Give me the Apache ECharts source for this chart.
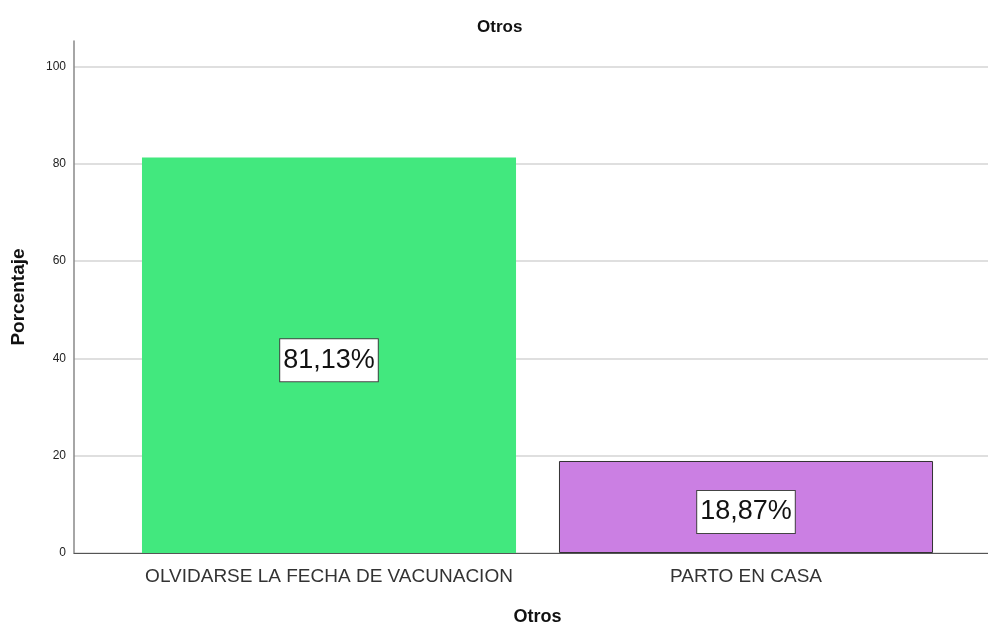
<!DOCTYPE html>
<html><head><meta charset="utf-8">
<script src="https://cdn.jsdelivr.net/npm/echarts@6/dist/echarts.min.js"></script>
<style>html,body{margin:0;padding:0;background:#fff}#c{width:988px;height:624px}</style>
</head><body><div id="c"></div>
<script>
const categories = ['OLVIDARSE LA FECHA DE VACUNACION', 'PARTO EN CASA'];
const values = [81.13, 18.87];
const barColors = ['#42E87E', '#CB7FE3'];
const yTicks = [0, 20, 40, 60, 80, 100];

const FONT = '"Liberation Sans", Arial, sans-serif';
const chart = echarts.init(document.getElementById('c'));
const fmt = v => v.toFixed(2).replace('.', ',') + '%';
chart.setOption({
  animation: false,
  title: { text: 'Otros', left: 472, top: 14, textStyle: { fontFamily: FONT, fontSize: 17, fontWeight: 'bold', color: '#111' } },
  grid: [
    { left: 74, right: 0, top: 66.4, bottom: 71, containLabel: false, outerBoundsMode: 'none' },
    { left: 120.5, right: 33.5, top: 41, bottom: 71, containLabel: false, outerBoundsMode: 'none' },
    { left: 74, right: 0, top: 41, bottom: 71, containLabel: false, outerBoundsMode: 'none' }
  ],
  xAxis: [
    { gridIndex: 0, type: 'value', min: 0, max: 1, axisLine: { show: true, lineStyle: { color: '#555', width: 1 } },
      axisTick: { show: false }, axisLabel: { show: false }, splitLine: { show: false } },
    { gridIndex: 1, type: 'category', data: categories, axisLine: { show: false }, axisTick: { show: false },
      axisLabel: { fontFamily: FONT, fontSize: 19, color: '#333', margin: 14, interval: 0, hideOverlap: false },
      name: 'Otros', nameLocation: 'middle', nameGap: 55,
      nameTextStyle: { fontFamily: FONT, fontSize: 18, fontWeight: 'bold', color: '#111' } },
    { gridIndex: 2, type: 'value', min: 0, max: 1, show: false }
  ],
  yAxis: [
    { gridIndex: 0, type: 'value', min: 0, max: 100, interval: 20,
      axisLine: { show: false }, axisTick: { show: false },
      axisLabel: { fontFamily: FONT, fontSize: 12, color: '#222', margin: 8 },
      splitLine: { show: true, lineStyle: { color: '#d4d4d4', width: 1.5 } } },
    { gridIndex: 1, type: 'value', min: 0, max: 105, show: false },
    { gridIndex: 2, type: 'value', min: 0, max: 105,
      axisLine: { show: true, lineStyle: { color: '#888', width: 1.5 } }, axisTick: { show: false },
      axisLabel: { show: false }, splitLine: { show: false },
      name: 'Porcentaje', nameLocation: 'middle', nameGap: 46,
      nameTextStyle: { fontFamily: FONT, fontSize: 19, fontWeight: 'bold', color: '#111' } }
  ],
  series: [{
    type: 'bar', xAxisIndex: 1, yAxisIndex: 1, barCategoryGap: '10.3%',
    data: values.map((v, i) => ({
      value: v,
      itemStyle: { color: barColors[i], borderColor: i === 0 ? barColors[i] : '#333', borderWidth: i === 0 ? 0 : 1 }
    })),
    label: {
      show: true, position: 'inside', offset: [0, 5], formatter: p => fmt(p.value),
      fontFamily: FONT, fontSize: 27, color: '#111', backgroundColor: '#fff',
      borderColor: '#444', borderWidth: 1, padding: [8, 3, 7, 3]
    }
  }]
});
</script></body></html>
